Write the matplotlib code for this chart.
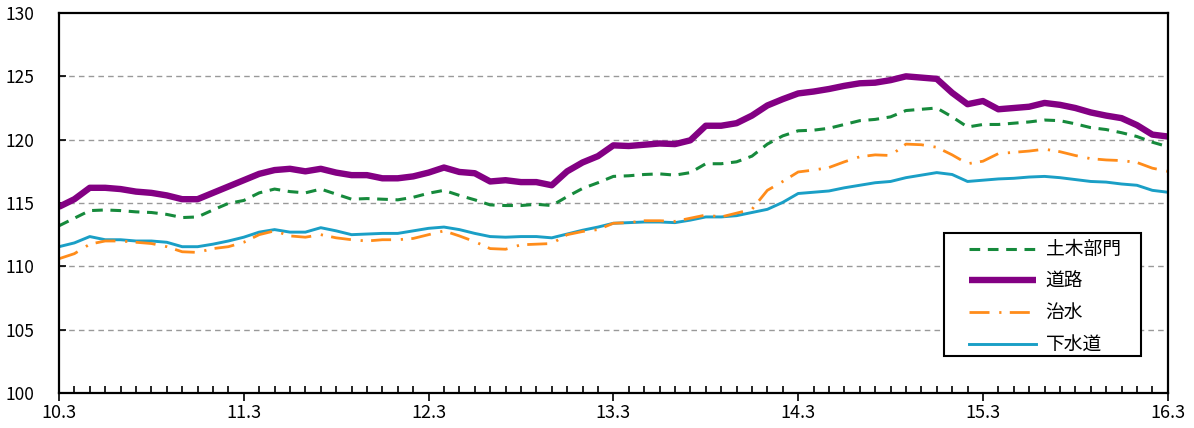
import numpy as np
import matplotlib.pyplot as plt
from matplotlib.ticker import MultipleLocator
from matplotlib.patches import Rectangle

plt.rcParams['font.family'] = ['Noto Sans CJK JP', 'DejaVu Sans']

# monthly index, 10.3 .. 16.3
months = np.arange(73)
year_labels = ['10.3', '11.3', '12.3', '13.3', '14.3', '15.3', '16.3']

civil = [113.2, 113.8, 114.4, 114.45, 114.4, 114.3, 114.25, 114.1, 113.85, 113.9,
         114.45, 114.97, 115.2, 115.8, 116.1, 115.9, 115.8, 116.1, 115.7, 115.3,
         115.35, 115.3, 115.25, 115.45, 115.77, 116.0, 115.6, 115.25, 114.85, 114.8,
         114.8, 114.9, 114.8, 115.5, 116.15, 116.6, 117.1, 117.15, 117.25, 117.3,
         117.2, 117.4, 118.1, 118.1, 118.25, 118.7, 119.65, 120.3, 120.7, 120.75,
         120.9, 121.2, 121.5, 121.6, 121.8, 122.3, 122.4, 122.5, 121.8, 121.0,
         121.2, 121.2, 121.3, 121.4, 121.55, 121.5, 121.25, 120.95, 120.8, 120.55,
         120.25, 119.8, 119.45]

road = [114.7, 115.3, 116.2, 116.2, 116.1, 115.9, 115.8, 115.6, 115.3, 115.3,
        115.8, 116.3, 116.8, 117.3, 117.6, 117.7, 117.5, 117.7, 117.4, 117.2,
        117.2, 116.95, 116.95, 117.1, 117.4, 117.8, 117.45, 117.35, 116.7, 116.8,
        116.65, 116.65, 116.4, 117.5, 118.2, 118.7, 119.55, 119.5, 119.6, 119.7,
        119.65, 119.95, 121.1, 121.1, 121.3, 121.9, 122.7, 123.2, 123.65, 123.8,
        124.0, 124.25, 124.45, 124.5, 124.7, 125.0, 124.9, 124.8, 123.7, 122.8,
        123.05, 122.4, 122.5, 122.6, 122.9, 122.75, 122.5, 122.15, 121.9, 121.7,
        121.15, 120.4, 120.25]

flood = [110.6, 111.0, 111.75, 112.0, 112.0, 111.9, 111.8, 111.55, 111.15, 111.1,
         111.4, 111.55, 111.9, 112.5, 112.8, 112.4, 112.3, 112.5, 112.25, 112.1,
         112.0, 112.1, 112.1, 112.2, 112.5, 112.8, 112.4, 111.95, 111.4, 111.35,
         111.7, 111.75, 111.8, 112.5, 112.75, 112.9, 113.4, 113.45, 113.6, 113.6,
         113.55, 113.8, 114.05, 113.9, 114.2, 114.5, 116.0, 116.7, 117.45, 117.6,
         117.8, 118.25, 118.65, 118.8, 118.75, 119.65, 119.6, 119.4, 118.8, 118.1,
         118.3, 118.9, 119.0, 119.1, 119.25, 119.05, 118.75, 118.5, 118.4, 118.35,
         118.2, 117.75, 117.5]

sewer = [111.55, 111.85, 112.35, 112.1, 112.1, 112.0, 112.0, 111.9, 111.55, 111.55,
         111.75, 112.0, 112.3, 112.7, 112.9, 112.7, 112.7, 113.05, 112.8, 112.5,
         112.55, 112.6, 112.6, 112.8, 113.0, 113.1, 112.9, 112.6, 112.35, 112.3,
         112.35, 112.35, 112.25, 112.55, 112.85, 113.1, 113.4, 113.45, 113.5, 113.5,
         113.45, 113.65, 113.9, 113.9, 114.0, 114.25, 114.5, 115.05, 115.75, 115.85,
         115.95, 116.2, 116.4, 116.6, 116.7, 117.0, 117.2, 117.4, 117.25, 116.7,
         116.8, 116.9, 116.95, 117.05, 117.1, 117.0, 116.85, 116.7, 116.65, 116.5,
         116.4, 116.0, 115.85]

fig = plt.figure(figsize=(11.94, 4.28), dpi=100)
ax = fig.add_axes([0.0494, 0.0818, 0.9286, 0.8878])

ax.plot(months, sewer, color='#1a9fc6', lw=2.1, label='下水道')
ax.plot(months, flood, color='#ff8c1a', lw=2.0, dashes=(7.2, 3.5, 0.8, 3), label='治水')
ax.plot(months, civil, color='#168a3c', lw=2.2, dashes=(3.5, 2.5), label='土木部門')
ax.plot(months, road, color='#830083', lw=4.6, solid_capstyle='butt', label='道路')

ax.set_xlim(0, 72)
ax.set_ylim(100, 130)
ax.set_yticks(range(100, 131, 5))
ax.set_xticks(range(0, 73, 12))
ax.set_xticklabels(year_labels)
ax.xaxis.set_minor_locator(MultipleLocator(1))

for y in range(105, 130, 5):
    ax.axhline(y, color='#999999', lw=1.0, ls=(0, (4, 3)), zorder=0)

for s in ax.spines.values():
    s.set_linewidth(1.6)
    s.set_color('black')

ax.tick_params(axis='y', direction='in', length=5, width=1.2, labelsize=12.5, pad=18)
ax.tick_params(axis='x', which='major', direction='out', length=6, width=1.2,
               labelsize=13, pad=2)
ax.tick_params(axis='x', which='minor', direction='in', length=5, width=1.2)

# legend box drawn separately so the inner padding can match
ax.add_patch(Rectangle((0.798, 0.0974), 0.1776, 0.3237, transform=ax.transAxes,
                       facecolor='white', edgecolor='black', lw=1.5, zorder=5))
h, l = ax.get_legend_handles_labels()
order = [2, 3, 1, 0]
leg = ax.legend([h[i] for i in order], [l[i] for i in order],
                loc='upper left', bbox_to_anchor=(0.8206, 0.405),
                borderaxespad=0, borderpad=0,
                fontsize=13.5, handlelength=3.6, handletextpad=0.5,
                labelspacing=0.57, frameon=False)
leg.set_zorder(6)

fig.savefig('out.png', dpi=100)
